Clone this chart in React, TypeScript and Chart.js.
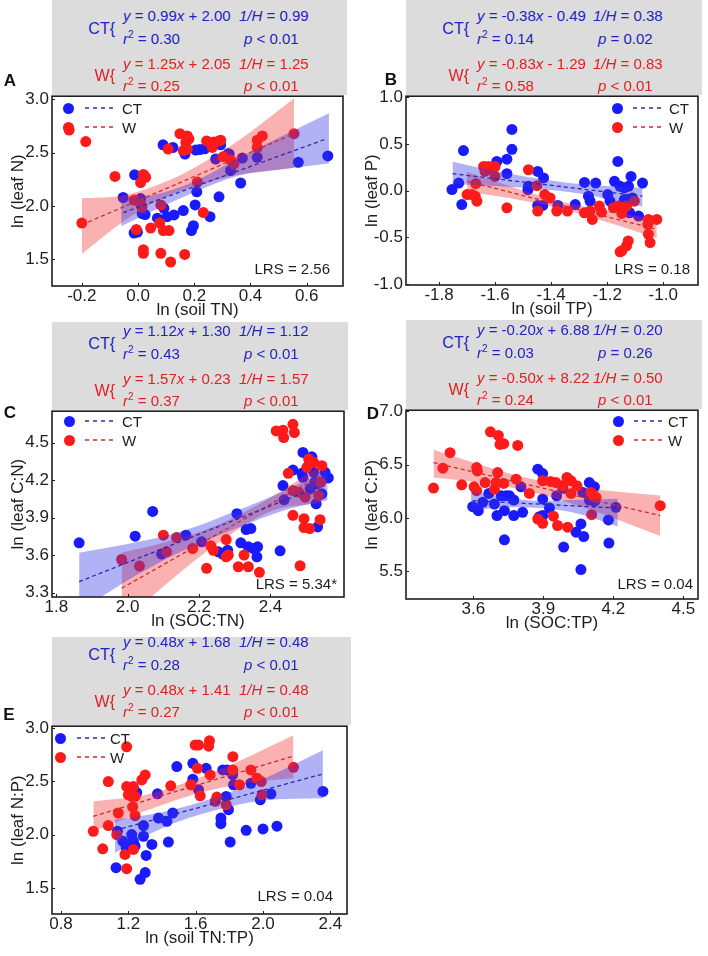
import React, { useEffect, useRef } from "react";
import { Chart, registerables } from "chart.js";
Chart.register(...registerables);

// ---------------- DATA ----------------
// Panel A: ln(soil TN) vs ln(leaf N)
const A_CT_X = [0.089,0.124,0.167,0.205,0.22,0.237,0.294,0.324,-0.012,-0.053,0.009,0.015,0.025,-0.014,-0.002,0.069,0.092,0.104,0.128,0.161,0.197,0.19,0.203,0.209,0.256,0.288,0.329,0.365,0.276,0.371,0.424,0.57,0.675,0.32];
const A_CT_Y = [2.574,2.549,2.488,2.525,2.53,2.537,2.574,2.488,2.293,2.08,2.07,1.93,1.92,1.747,1.756,1.886,1.978,1.90,1.917,1.957,1.815,1.77,2.01,2.133,1.90,2.086,2.333,2.216,2.44,2.45,2.457,2.41,2.47,2.49];
const A_W_X = [-0.245,-0.186,-0.2,-0.082,0.019,0.027,0.009,-0.014,0.009,0.014,-0.006,0.019,0.019,0.045,0.081,0.077,0.081,0.09,0.11,0.116,0.166,0.107,0.149,0.175,0.17,0.175,0.161,0.181,0.232,0.244,0.264,0.27,0.288,0.294,0.303,0.329,0.341,0.424,0.442,0.424,0.555,0.211];
const A_W_Y = [2.713,2.605,1.84,2.278,2.296,2.27,2.22,2.056,2.02,1.988,1.78,1.59,1.556,1.793,2.01,1.84,1.556,1.77,1.77,1.475,1.546,2.534,2.679,2.657,2.596,2.534,2.52,2.63,1.94,2.61,2.55,2.6,2.611,2.617,2.463,2.432,2.395,2.617,2.657,2.55,2.679,2.225];
const A_CT_FIT_X = [-0.053, 0.667];
const A_CT_FIT_Y = [1.938, 2.627];
const A_W_FIT_X = [-0.2, 0.555];
const A_W_FIT_Y = [1.824, 2.679];
const A_CT_BAND_X = [-0.06, 0.05, 0.2, 0.35, 0.5, 0.679];
const A_CT_BAND_UP = [2.07, 2.10, 2.23, 2.44, 2.64, 2.87];
const A_CT_BAND_LO = [1.81, 1.95, 2.13, 2.28, 2.34, 2.40];
const A_W_BAND_X = [-0.2, -0.05, 0.1, 0.2, 0.35, 0.555];
const A_W_BAND_UP = [2.07, 2.10, 2.23, 2.36, 2.60, 3.01];
const A_W_BAND_LO = [1.55, 1.86, 2.09, 2.18, 2.29, 2.36];
const A_X_TICKS = [-0.2, 0.0, 0.2, 0.4, 0.6];
const A_Y_TICKS = [1.5, 2.0, 2.5, 3.0];

// Panel B: ln(soil TP) vs ln(leaf P)
const B_CT_X = [-1.754,-1.73,-1.713,-1.719,-1.594,-1.558,-1.558,-1.54,-1.54,-1.481,-1.483,-1.448,-1.427,-1.448,-1.43,-1.376,-1.314,-1.281,-1.267,-1.261,-1.241,-1.198,-1.19,-1.174,-1.162,-1.154,-1.139,-1.124,-1.115,-1.11,-1.12,-1.139,-1.074,-1.088];
const B_CT_Y = [0.011,0.081,0.428,-0.149,0.312,0.336,0.181,0.655,0.442,0.046,0.01,0.205,0.135,-0.159,-0.159,-0.159,-0.149,0.088,-0.06,-0.113,0.081,-0.042,-0.113,0.099,0.312,0.046,0.028,0.046,0.152,-0.078,-0.237,-0.096,0.081,-0.273];
const B_W_X = [-1.7,-1.682,-1.671,-1.665,-1.669,-1.641,-1.636,-1.624,-1.612,-1.6,-1.6,-1.558,-1.481,-1.451,-1.448,-1.423,-1.404,-1.38,-1.342,-1.281,-1.261,-1.253,-1.228,-1.22,-1.178,-1.16,-1.148,-1.131,-1.125,-1.131,-1.148,-1.154,-1.053,-1.023,-1.055,-1.053,-1.047,-1.103];
const B_W_Y = [-0.042,-0.042,-0.06,-0.113,0.074,0.258,0.205,0.258,0.223,0.258,0.152,-0.184,0.223,0.053,-0.219,-0.042,-0.078,-0.219,-0.219,-0.237,-0.219,-0.308,-0.166,-0.23,-0.184,-0.166,-0.244,-0.166,-0.538,-0.591,-0.644,-0.655,-0.308,-0.308,-0.361,-0.467,-0.556,-0.113];
const B_CT_FIT_X = [-1.752, -1.074];
const B_CT_FIT_Y = [0.181, -0.06];
const B_W_FIT_X = [-1.7, -1.023];
const B_W_FIT_Y = [0.099, -0.414];
const B_CT_BAND_X = [-1.752, -1.6, -1.45, -1.3, -1.074];
const B_CT_BAND_UP = [0.31, 0.21, 0.13, 0.07, 0.03];
const B_CT_BAND_LO = [0.07, 0.05, 0.02, -0.03, -0.17];
const B_W_BAND_X = [-1.7, -1.55, -1.4, -1.25, -1.023];
const B_W_BAND_UP = [0.20, 0.05, -0.09, -0.19, -0.31];
const B_W_BAND_LO = [-0.01, -0.08, -0.17, -0.29, -0.51];
const B_X_TICKS = [-1.8, -1.6, -1.4, -1.2, -1.0];
const B_Y_TICKS = [-1.0, -0.5, 0.0, 0.5, 1.0];

// Panel C: ln(SOC:TN) vs ln(leaf C:N)
const C_CT_X = [1.864,2.021,2.07,2.095,2.163,2.207,2.254,2.28,2.266,2.306,2.317,2.332,2.345,2.338,2.352,2.364,2.362,2.427,2.435,2.438,2.463,2.488,2.491,2.516,2.491,2.521,2.53,2.511,2.553,2.562,2.544,2.528,2.532,2.524];
const C_CT_Y = [3.699,3.752,3.95,3.609,3.76,3.707,3.627,3.64,3.609,3.932,3.699,3.805,3.813,3.667,3.654,3.667,3.587,3.635,4.157,4.043,4.281,4.255,4.422,4.387,4.223,4.263,4.17,4.13,4.263,4.218,4.091,4.011,3.826,4.183];
const C_W_X = [1.983,2.033,2.1,2.109,2.137,2.182,2.233,2.24,2.221,2.276,2.276,2.282,2.31,2.326,2.338,2.369,2.416,2.435,2.437,2.463,2.467,2.45,2.463,2.463,2.479,2.497,2.494,2.494,2.51,2.483,2.502,2.507,2.521,2.544,2.535,2.541,2.539];
const C_W_Y = [3.566,3.513,3.76,3.627,3.741,3.654,3.675,3.64,3.495,3.725,3.587,3.601,3.508,3.601,3.508,3.463,4.594,4.6,4.541,4.647,4.581,4.255,4.117,3.919,4.104,4.064,3.892,3.821,3.813,3.516,4.303,4.369,4.342,4.316,4.077,4.183,3.884];
const C_CT_FIT_X = [1.864, 2.537];
const C_CT_FIT_Y = [3.389, 4.149];
const C_W_FIT_X = [1.983, 2.541];
const C_W_FIT_Y = [3.336, 4.236];
const C_CT_BAND_X = [1.864, 2.0, 2.15, 2.3, 2.45, 2.56];
const C_CT_BAND_UP = [3.62, 3.69, 3.79, 3.95, 4.13, 4.29];
const C_CT_BAND_LO = [3.15, 3.40, 3.63, 3.81, 3.97, 4.04];
const C_W_BAND_X = [1.983, 2.1, 2.25, 2.4, 2.541];
const C_W_BAND_UP = [3.62, 3.70, 3.84, 4.06, 4.32];
const C_W_BAND_LO = [3.05, 3.35, 3.69, 3.95, 4.02];
const C_X_TICKS = [1.8, 2.0, 2.2, 2.4];
const C_Y_TICKS = [3.3, 3.6, 3.9, 4.2, 4.5];

// Panel D: ln(SOC:TP) vs ln(leaf C:P)
const D_CT_X = [3.597,3.621,3.64,3.666,3.69,3.701,3.719,3.74,3.754,3.733,3.733,3.773,3.773,3.811,3.804,3.876,3.897,3.897,3.897,3.883,3.926,3.957,3.983,3.987,4.04,4.061,4.061,4.073,4.069,4.097,4.119,4.097,4.119,4.179,4.181,4.211];
const D_CT_Y = [6.106,6.068,6.146,6.23,6.13,6.022,6.208,6.208,6.208,6.068,5.795,6.168,6.022,6.053,6.292,6.457,6.416,6.177,6.022,6.012,6.093,6.208,6.28,5.727,5.866,5.944,5.516,5.826,6.239,6.332,6.292,6.168,6.155,5.981,5.764,6.099];
const D_W_X = [3.429,3.469,3.5,3.55,3.614,3.617,3.603,3.614,3.65,3.673,3.707,3.714,3.73,3.79,3.704,3.697,3.69,3.73,3.783,3.84,3.876,3.897,3.897,3.93,3.954,3.943,3.961,4.004,3.983,4.001,4.019,4.019,4.044,4.104,4.116,4.126,4.107,4.401];
const D_W_Y = [6.28,6.466,6.612,6.31,6.472,6.441,6.292,6.255,6.332,6.807,6.773,6.689,6.696,6.68,6.425,6.332,6.27,6.323,6.363,6.23,5.99,5.95,6.348,6.342,6.332,6.016,5.929,5.913,6.301,6.379,6.348,6.23,6.301,6.239,6.199,6.193,6.031,6.115];
const D_CT_FIT_X = [3.597, 4.211];
const D_CT_FIT_Y = [6.161, 6.093];
const D_W_FIT_X = [3.429, 4.401];
const D_W_FIT_Y = [6.519, 6.022];
const D_CT_BAND_X = [3.59, 3.75, 3.9, 4.05, 4.219];
const D_CT_BAND_UP = [6.25, 6.19, 6.16, 6.17, 6.18];
const D_CT_BAND_LO = [6.07, 6.10, 6.09, 6.04, 5.92];
const D_W_BAND_X = [3.429, 3.6, 3.8, 4.0, 4.2, 4.401];
const D_W_BAND_UP = [6.64, 6.52, 6.39, 6.30, 6.25, 6.21];
const D_W_BAND_LO = [6.38, 6.34, 6.27, 6.15, 6.00, 5.83];
const D_X_TICKS = [3.6, 3.9, 4.2, 4.5];
const D_Y_TICKS = [5.5, 6.0, 6.5, 7.0];

// Panel E: ln(soil TN:TP) vs ln(leaf N:P)
const E_CT_X = [1.127,1.135,1.22,1.23,1.167,1.187,1.24,1.29,1.29,1.25,1.27,1.3,1.306,1.34,1.373,1.379,1.429,1.438,1.464,1.488,1.583,1.583,1.617,1.662,1.761,1.75,1.75,1.786,1.781,1.795,1.805,1.82,1.825,1.9,1.928,1.984,2.0,2.047,2.083,2.356];
const E_CT_Y = [1.689,2.031,2.0,1.938,1.938,1.876,1.891,2.084,1.984,2.394,1.58,1.643,1.804,1.907,2.382,2.155,2.124,1.929,2.202,2.637,2.668,2.519,2.419,2.621,2.606,2.155,2.102,2.606,2.357,2.233,1.929,2.56,2.466,2.04,2.481,2.326,2.053,2.382,2.078,2.404];
const E_W_X = [0.992,1.048,1.081,1.081,1.14,1.131,1.18,1.19,1.19,1.19,1.2,1.22,1.23,1.24,1.226,1.24,1.23,1.28,1.3,1.452,1.571,1.597,1.617,1.61,1.627,1.682,1.677,1.686,1.726,1.716,1.781,1.821,1.821,1.861,1.928,1.964,1.99,1.994,2.181];
const E_W_Y = [2.031,1.866,2.497,2.084,2.202,2.0,1.814,1.68,2.823,2.45,2.373,2.357,2.45,2.357,2.258,2.177,1.86,2.512,2.559,2.457,2.466,2.839,2.839,2.621,2.363,2.879,2.829,2.559,2.351,2.311,2.28,2.73,2.606,2.466,2.606,2.528,2.497,2.373,2.63];
const E_CT_FIT_X = [1.121, 2.356];
const E_CT_FIT_Y = [2.04, 2.568];
const E_W_FIT_X = [0.992, 2.181];
const E_W_FIT_Y = [2.171, 2.736];
const E_CT_BAND_X = [1.121, 1.4, 1.7, 2.0, 2.356];
const E_CT_BAND_UP = [2.14, 2.21, 2.34, 2.52, 2.79];
const E_CT_BAND_LO = [1.83, 2.06, 2.22, 2.32, 2.34];
const E_W_BAND_X = [0.992, 1.3, 1.6, 1.9, 2.181];
const E_W_BAND_UP = [2.31, 2.37, 2.52, 2.72, 2.93];
const E_W_BAND_LO = [2.03, 2.22, 2.38, 2.48, 2.53];
const E_X_TICKS = [0.8, 1.2, 1.6, 2.0, 2.4];
const E_Y_TICKS = [1.5, 2.0, 2.5, 3.0];

// Statistics text: [slope, intercept, 1/H, r2, p]
const A_CT_STATS = ["0.99", "+ 2.00", "0.99", "0.30", "< 0.01"];
const A_W_STATS = ["1.25", "+ 2.05", "1.25", "0.25", "< 0.01"];
const B_CT_STATS = ["-0.38", "- 0.49", "0.38", "0.14", "= 0.02"];
const B_W_STATS = ["-0.83", "- 1.29", "0.83", "0.58", "< 0.01"];
const C_CT_STATS = ["1.12", "+ 1.30", "1.12", "0.43", "< 0.01"];
const C_W_STATS = ["1.57", "+ 0.23", "1.57", "0.37", "< 0.01"];
const D_CT_STATS = ["-0.20", "+ 6.88", "0.20", "0.03", "= 0.26"];
const D_W_STATS = ["-0.50", "+ 8.22", "0.50", "0.24", "< 0.01"];
const E_CT_STATS = ["0.48", "+ 1.68", "0.48", "0.28", "< 0.01"];
const E_W_STATS = ["0.48", "+ 1.41", "0.48", "0.27", "< 0.01"];
const LRS_LABELS = ["LRS = 2.56", "LRS = 0.18", "LRS = 5.34*", "LRS = 0.04", "LRS = 0.04"];

// ---------------- STYLE ----------------
const FONT = '"Liberation Sans", Arial, Helvetica, sans-serif';
const BLUE = "#1a1aff";
const RED = "#ff1a1a";
const BLUE_LINE = "#2a2ab0";
const RED_LINE = "#d02a2a";
const BLUE_BAND = "rgba(50,50,230,0.38)";
const RED_BAND = "rgba(240,40,40,0.36)";
const HDR_BLUE = "#2323c4";
const HDR_RED = "#e02020";
const INK = "#1e1e1e";
const GRAY = "#dcdcdc";
const YW = 52, XH = 36, PADT = 12, PADR = 6;

type Cfg = {
  letter: string; letterX: number; letterY: number;
  L: number; T: number; R: number; B: number;
  xr: [number, number]; yr: [number, number];
  xTicks: number[]; yTicks: number[];
  xTitle: string; yTitle: string;
  ct: [number[], number[]]; w: [number[], number[]];
  ctFit: [number[], number[]]; wFit: [number[], number[]];
  ctBand: [number[], number[], number[]]; wBand: [number[], number[], number[]];
  ctStats: string[]; wStats: string[];
  lrs: string; lrsX: number; lrsY: number;
  leg: { dot: number; x1: number; x2: number; tx: number; y1: number; y2: number };
  grayTop: number; hdrShift: number;
};

const PANELS: Cfg[] = [
  {
    letter: "A", letterX: 10, letterY: 80, L: 52, T: 95, R: 343, B: 286,
    xr: [-0.306, 0.729], yr: [1.25, 3.03], xTicks: A_X_TICKS, yTicks: A_Y_TICKS,
    xTitle: "ln (soil TN)", yTitle: "ln (leaf N)",
    ct: [A_CT_X, A_CT_Y], w: [A_W_X, A_W_Y], ctFit: [A_CT_FIT_X, A_CT_FIT_Y], wFit: [A_W_FIT_X, A_W_FIT_Y],
    ctBand: [A_CT_BAND_X, A_CT_BAND_UP, A_CT_BAND_LO], wBand: [A_W_BAND_X, A_W_BAND_UP, A_W_BAND_LO],
    ctStats: A_CT_STATS, wStats: A_W_STATS, lrs: LRS_LABELS[0], lrsX: 330, lrsY: 268,
    leg: { dot: 68, x1: 85, x2: 115, tx: 122, y1: 108, y2: 127 }, grayTop: 0, hdrShift: 0,
  },
  {
    letter: "B", letterX: 391, letterY: 79, L: 406, T: 95, R: 698, B: 285,
    xr: [-1.918, -0.876], yr: [-1.01, 1.01], xTicks: B_X_TICKS, yTicks: B_Y_TICKS,
    xTitle: "ln (soil TP)", yTitle: "ln (leaf P)",
    ct: [B_CT_X, B_CT_Y], w: [B_W_X, B_W_Y], ctFit: [B_CT_FIT_X, B_CT_FIT_Y], wFit: [B_W_FIT_X, B_W_FIT_Y],
    ctBand: [B_CT_BAND_X, B_CT_BAND_UP, B_CT_BAND_LO], wBand: [B_W_BAND_X, B_W_BAND_UP, B_W_BAND_LO],
    ctStats: B_CT_STATS, wStats: B_W_STATS, lrs: LRS_LABELS[1], lrsX: 690, lrsY: 268,
    leg: { dot: 617, x1: 633, x2: 663, tx: 669, y1: 108, y2: 127 }, grayTop: 0, hdrShift: 0,
  },
  {
    letter: "C", letterX: 10, letterY: 412, L: 52, T: 410, R: 344, B: 597,
    xr: [1.788, 2.606], yr: [3.266, 4.752], xTicks: C_X_TICKS, yTicks: C_Y_TICKS,
    xTitle: "ln (SOC:TN)", yTitle: "ln (leaf C:N)",
    ct: [C_CT_X, C_CT_Y], w: [C_W_X, C_W_Y], ctFit: [C_CT_FIT_X, C_CT_FIT_Y], wFit: [C_W_FIT_X, C_W_FIT_Y],
    ctBand: [C_CT_BAND_X, C_CT_BAND_UP, C_CT_BAND_LO], wBand: [C_W_BAND_X, C_W_BAND_UP, C_W_BAND_LO],
    ctStats: C_CT_STATS, wStats: C_W_STATS, lrs: LRS_LABELS[2], lrsX: 337, lrsY: 583,
    leg: { dot: 69, x1: 85, x2: 115, tx: 122, y1: 421, y2: 440 }, grayTop: 322, hdrShift: 0,
  },
  {
    letter: "D", letterX: 373, letterY: 413, L: 406, T: 409, R: 698, B: 599,
    xr: [3.311, 4.563], yr: [5.24, 7.01], xTicks: D_X_TICKS, yTicks: D_Y_TICKS,
    xTitle: "ln (SOC:TP)", yTitle: "ln (leaf C:P)",
    ct: [D_CT_X, D_CT_Y], w: [D_W_X, D_W_Y], ctFit: [D_CT_FIT_X, D_CT_FIT_Y], wFit: [D_W_FIT_X, D_W_FIT_Y],
    ctBand: [D_CT_BAND_X, D_CT_BAND_UP, D_CT_BAND_LO], wBand: [D_W_BAND_X, D_W_BAND_UP, D_W_BAND_LO],
    ctStats: D_CT_STATS, wStats: D_W_STATS, lrs: LRS_LABELS[3], lrsX: 693, lrsY: 583,
    leg: { dot: 618, x1: 634, x2: 663, tx: 668, y1: 421, y2: 440 }, grayTop: 320, hdrShift: 0,
  },
  {
    letter: "E", letterX: 9, letterY: 714, L: 52, T: 725, R: 347, B: 914,
    xr: [0.7465, 2.499], yr: [1.255, 3.016], xTicks: E_X_TICKS, yTicks: E_Y_TICKS,
    xTitle: "ln (soil TN:TP)", yTitle: "ln (leaf N:P)",
    ct: [E_CT_X, E_CT_Y], w: [E_W_X, E_W_Y], ctFit: [E_CT_FIT_X, E_CT_FIT_Y], wFit: [E_W_FIT_X, E_W_FIT_Y],
    ctBand: [E_CT_BAND_X, E_CT_BAND_UP, E_CT_BAND_LO], wBand: [E_W_BAND_X, E_W_BAND_UP, E_W_BAND_LO],
    ctStats: E_CT_STATS, wStats: E_W_STATS, lrs: LRS_LABELS[4], lrsX: 333, lrsY: 895,
    leg: { dot: 60, x1: 77, x2: 107, tx: 110, y1: 738, y2: 757 }, grayTop: 637, hdrShift: -4,
  },
];

const zip = (xs: number[], ys: number[]) => xs.map((x, i) => ({ x, y: ys[i] }));

const boxPlugin = {
  id: "boxAndTicks",
  afterDatasetsDraw(chart: any) {
    const { ctx, chartArea: a, scales } = chart;
    ctx.save();
    ctx.strokeStyle = INK;
    ctx.lineWidth = 1;
    scales.x.ticks.forEach((t: any) => {
      const px = Math.round(scales.x.getPixelForValue(t.value)) + 0.5;
      ctx.beginPath(); ctx.moveTo(px, a.bottom); ctx.lineTo(px, a.bottom - 3); ctx.stroke();
    });
    scales.y.ticks.forEach((t: any) => {
      const py = Math.round(scales.y.getPixelForValue(t.value)) + 0.5;
      ctx.beginPath(); ctx.moveTo(a.left, py); ctx.lineTo(a.left + 3, py); ctx.stroke();
    });
    ctx.lineWidth = 1.6;
    ctx.strokeRect(a.left, a.top, a.right - a.left, a.bottom - a.top);
    ctx.restore();
  },
};

function makeConfig(p: Cfg): any {
  const tickFont = { family: FONT, size: 17 };
  const band = (xs: number[], ys: number[], color: string | null, fill: any) => ({
    type: "line",
    data: zip(xs, ys),
    borderColor: "rgba(0,0,0,0)",
    borderWidth: 0,
    pointRadius: 0,
    backgroundColor: color || "rgba(0,0,0,0)",
    fill,
    tension: 0.35,
    cubicInterpolationMode: "monotone",
    order: 1,
  });
  const fit = (d: [number[], number[]], color: string) => ({
    type: "line",
    data: zip(d[0], d[1]),
    borderColor: color,
    borderWidth: 1.3,
    borderDash: [4, 3],
    pointRadius: 0,
    fill: false,
    order: 0,
  });
  const pts = (d: [number[], number[]], color: string, order: number) => ({
    type: "scatter",
    data: zip(d[0], d[1]),
    backgroundColor: color,
    borderWidth: 0,
    pointRadius: 5.5,
    pointHoverRadius: 5.5,
    order,
  });
  return {
    type: "scatter",
    data: {
      datasets: [
        fit(p.ctFit, BLUE_LINE),
        fit(p.wFit, RED_LINE),
        band(p.ctBand[0], p.ctBand[1], BLUE_BAND, "+1"),
        band(p.ctBand[0], p.ctBand[2], null, false),
        band(p.wBand[0], p.wBand[1], RED_BAND, "+1"),
        band(p.wBand[0], p.wBand[2], null, false),
        pts(p.w, RED, 2),
        pts(p.ct, BLUE, 3),
      ],
    },
    options: {
      responsive: false,
      animation: false,
      devicePixelRatio: 1,
      events: [],
      layout: { padding: { left: 0, top: PADT, right: PADR, bottom: 0 } },
      plugins: { legend: { display: false }, tooltip: { enabled: false } },
      scales: {
        x: {
          type: "linear",
          min: p.xr[0],
          max: p.xr[1],
          grid: { display: false, drawTicks: false },
          border: { display: false },
          afterBuildTicks: (s: any) => { s.ticks = p.xTicks.map((v) => ({ value: v })); },
          afterFit: (s: any) => { s.height = XH; },
          ticks: {
            autoSkip: false, maxRotation: 0, padding: 0, color: INK, font: tickFont,
            callback: (v: any) => Number(v).toFixed(1),
          },
          title: { display: true, text: p.xTitle, color: INK, font: tickFont, padding: { top: 0, bottom: 1 } },
        },
        y: {
          type: "linear",
          min: p.yr[0],
          max: p.yr[1],
          grid: { display: false, drawTicks: false },
          border: { display: false },
          afterBuildTicks: (s: any) => { s.ticks = p.yTicks.map((v) => ({ value: v })); },
          afterFit: (s: any) => { s.width = YW; },
          ticks: {
            autoSkip: false, padding: 3, color: INK, font: tickFont,
            callback: (v: any) => Number(v).toFixed(1),
          },
          title: { display: true, text: p.yTitle, color: INK, font: tickFont, padding: { top: 8, bottom: 0 } },
        },
      },
    },
    plugins: [boxPlugin],
  };
}

function PlotCanvas({ p }: { p: Cfg }) {
  const ref = useRef<HTMLCanvasElement | null>(null);
  useEffect(() => {
    const chart = new Chart(ref.current as HTMLCanvasElement, makeConfig(p));
    return () => chart.destroy();
  }, [p]);
  const w = p.R - p.L + YW + PADR;
  const h = p.B - p.T + PADT + XH;
  return (
    <canvas
      ref={ref}
      width={w}
      height={h}
      style={{ position: "absolute", left: p.L - YW, top: p.T - PADT, width: w, height: h }}
    />
  );
}

const abs = (left: number, top: number, extra: any = {}): any => ({
  position: "absolute", left, top, transform: "translateY(-50%)", whiteSpace: "nowrap",
  lineHeight: 1, fontFamily: FONT, ...extra,
});

function StatBlock({ p, stats, color, r1, r2, brace }: { p: Cfg; stats: string[]; color: string; r1: number; r2: number; brace: string }) {
  const L = p.L;
  const mid = (r1 + r2) / 2 + 2;
  return (
    <>
      <div style={abs(L + 63, mid, { fontSize: 16, color, transform: "translate(-100%,-50%)" })}>{brace}</div>
      <div style={abs(L + 71, r1, { fontSize: 15, color })}>
        <i>y</i> = {stats[0]}<i>x</i> {stats[1]}
      </div>
      <div style={abs(L + 187, r1, { fontSize: 15, color })}>
        <i>1/H</i> = {stats[2]}
      </div>
      <div style={abs(L + 71, r2, { fontSize: 15, color })}>
        <i>r</i><span style={{ fontSize: 10, position: "relative", top: -6 }}>2</span> = {stats[3]}
      </div>
      <div style={abs(L + 192, r2, { fontSize: 15, color })}>
        <i>p</i> {stats[4]}
      </div>
    </>
  );
}

function LegendRow({ p, y, color, lineColor, label }: { p: Cfg; y: number; color: string; lineColor: string; label: string }) {
  const g = p.leg;
  return (
    <>
      <div style={{ position: "absolute", left: g.dot - 5.5, top: y - 5.5, width: 11, height: 11, borderRadius: "50%", background: color }} />
      <svg style={{ position: "absolute", left: g.x1, top: y - 2 }} width={g.x2 - g.x1} height={4}>
        <line x1={0} y1={2} x2={g.x2 - g.x1} y2={2} stroke={lineColor} strokeWidth={1.4} strokeDasharray="4 4" />
      </svg>
      <div style={abs(g.tx, y, { fontSize: 15, color: INK })}>{label}</div>
    </>
  );
}

function PanelOverlay({ p }: { p: Cfg }) {
  const s = p.hdrShift;
  const rows = [p.T - 80 + s, p.T - 57 + s, p.T - 32 + s, p.T - 10 + s];
  return (
    <>
      <StatBlock p={p} stats={p.ctStats} color={HDR_BLUE} r1={rows[0]} r2={rows[1]} brace="CT{" />
      <StatBlock p={p} stats={p.wStats} color={HDR_RED} r1={rows[2]} r2={rows[3]} brace="W{" />
      <div style={abs(p.letterX, p.letterY, { fontSize: 17, fontWeight: "bold", color: "#111", transform: "translate(-50%,-50%)" })}>
        {p.letter}
      </div>
      <LegendRow p={p} y={p.leg.y1} color={BLUE} lineColor={BLUE_LINE} label="CT" />
      <LegendRow p={p} y={p.leg.y2} color={RED} lineColor={RED_LINE} label="W" />
      <div style={abs(p.lrsX, p.lrsY, { fontSize: 15, color: INK, transform: "translate(-100%,-50%)" })}>{p.lrs}</div>
    </>
  );
}

export default function App() {
  return (
    <div style={{ position: "absolute", left: 0, top: 0, width: 708, height: 956, background: "#fff", overflow: "hidden", fontFamily: FONT }}>
      {PANELS.map((p, i) => (
        <div key={"g" + i} style={{ position: "absolute", left: p.L, top: p.grayTop, width: p.R + 4 - p.L, height: p.T - p.grayTop, background: GRAY }} />
      ))}
      {PANELS.map((p, i) => (
        <PlotCanvas key={"c" + i} p={p} />
      ))}
      {PANELS.map((p, i) => (
        <PanelOverlay key={"o" + i} p={p} />
      ))}
    </div>
  );
}
